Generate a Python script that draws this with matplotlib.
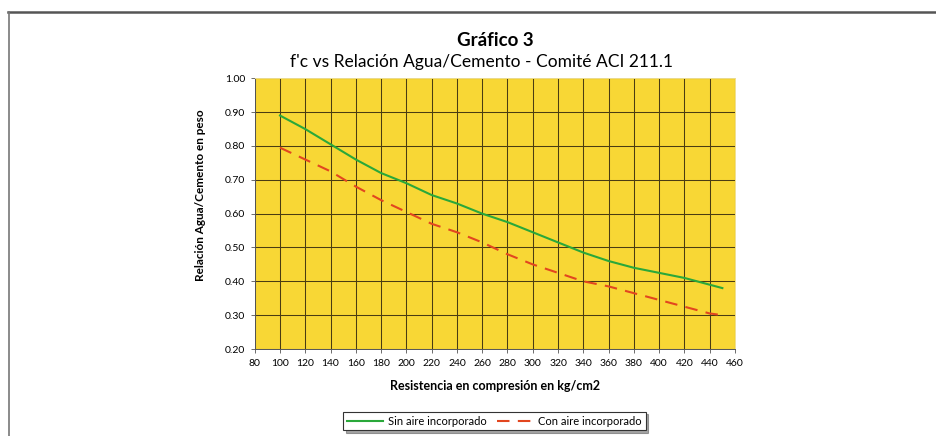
import matplotlib.pyplot as plt
import numpy as np

plt.rcParams['font.family'] = ['Lato', 'DejaVu Sans']

# resistencia en compresion (kg/cm2)
fc = [100, 120, 140, 160, 180, 200, 220, 240, 260, 280, 300,
      320, 340, 360, 380, 400, 420, 440, 450]
# relacion agua/cemento
sin_aire = [0.89, 0.85, 0.805, 0.76, 0.72, 0.69, 0.655, 0.63, 0.60, 0.575, 0.545,
            0.515, 0.485, 0.46, 0.44, 0.425, 0.41, 0.39, 0.38]
con_aire = [0.795, 0.76, 0.725, 0.68, 0.64, 0.605, 0.57, 0.545, 0.515, 0.48, 0.45,
            0.425, 0.40, 0.385, 0.365, 0.345, 0.325, 0.305, 0.30]

xticks = np.arange(80, 461, 20)
yticks = np.arange(0.20, 1.001, 0.10)

W, H = 937, 436
fig = plt.figure(figsize=(W / 100, H / 100), dpi=100)
ax = fig.add_axes([254.7 / W, 1 - 349 / H, (735 - 254.7) / W, (349 - 78.3) / H])

ax.set_facecolor('#f8d735')
ax.plot(fc, sin_aire, color='#2aa83a', lw=1.5, label='Sin aire incorporado', zorder=3)
ax.plot(fc, con_aire, color='#e2461f', lw=1.5, ls=(0, (6, 4)),
        label='Con aire incorporado', zorder=3)

ax.set_xlim(80, 460)
ax.set_ylim(0.20, 1.00)
ax.set_xticks(xticks)
ax.set_yticks(yticks)
ax.set_yticklabels(['%.2f' % v for v in yticks])
ax.grid(True, color='#4a3c12', lw=0.75)
ax.tick_params(labelsize=7.5, length=3, width=0.6, color='#555555', pad=4)
for s in ax.spines.values():
    s.set_color('#555555')
    s.set_linewidth(0.7)
ax.spines['top'].set_color('#f0e090')
ax.spines['right'].set_color('#f0e090')

ax.set_xlabel('Resistencia en compresión en kg/cm2', fontsize=9, fontweight='bold', labelpad=9)
ax.set_ylabel('Relación Agua/Cemento en peso', fontsize=8.5, fontweight='bold')
ax.yaxis.set_label_coords(-0.101, 0.569)

fig.text(495 / W, 1 - 41 / H, 'Gráfico 3', ha='center', va='center', fontsize=13.5, fontweight='bold')
fig.text(482 / W, 1 - 62 / H, "f'c vs Relación Agua/Cemento - Comité ACI 211.1",
         ha='center', va='center', fontsize=12.5)

leg = fig.legend(loc='center', bbox_to_anchor=(494.5 / W, 1 - 421 / H), ncol=2,
                 fontsize=8, frameon=True, fancybox=False, shadow=True,
                 handlelength=3.2, columnspacing=0.9, handletextpad=0.5,
                 borderpad=0.35, borderaxespad=0)
leg.get_frame().set_edgecolor('#333333')
leg.get_frame().set_linewidth(0.8)

# marco exterior
fig.add_artist(plt.Line2D([8 / W, 1], [1 - 12 / H, 1 - 12 / H], color='#555555', lw=1.8))
fig.add_artist(plt.Line2D([9 / W, 9 / W], [0, 1 - 12 / H], color='#777777', lw=1.2))

fig.savefig('out.png', dpi=100, facecolor='white')
